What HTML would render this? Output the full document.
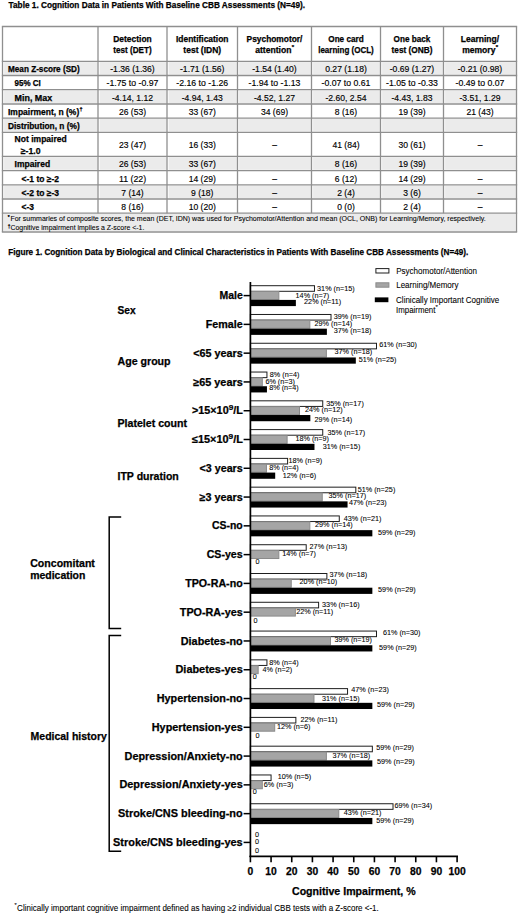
<!DOCTYPE html>
<html><head><meta charset="utf-8"><title>Cognition Data</title>
<style>
html,body{margin:0;padding:0;background:#fff;}
body{width:520px;height:915px;overflow:hidden;}
svg{display:block;font-family:"Liberation Sans", sans-serif;}
text{stroke:#000;stroke-width:0.25px;}
text.r{stroke-width:0.08px;}
text.m{stroke-width:0.15px;}
</style></head><body>
<svg width="520" height="915" viewBox="0 0 520 915">
<rect width="520" height="915" fill="#fff"/>
<text x="8.60" y="8.10" font-size="8.8" font-weight="bold" textLength="296.40" lengthAdjust="spacingAndGlyphs">Table 1. Cognition Data in Patients With Baseline CBB Assessments (N=49).</text>
<rect x="4.10" y="62.10" width="93.30" height="12.60" fill="#ebebeb"/>
<rect x="99.60" y="62.10" width="66.80" height="12.60" fill="#ebebeb"/>
<rect x="168.60" y="62.10" width="68.30" height="12.60" fill="#ebebeb"/>
<rect x="239.10" y="62.10" width="71.80" height="12.60" fill="#ebebeb"/>
<rect x="313.10" y="62.10" width="66.80" height="12.60" fill="#ebebeb"/>
<rect x="382.10" y="62.10" width="60.80" height="12.60" fill="#ebebeb"/>
<rect x="445.10" y="62.10" width="70.80" height="12.60" fill="#ebebeb"/>
<rect x="4.10" y="90.50" width="93.30" height="12.70" fill="#ebebeb"/>
<rect x="99.60" y="90.50" width="66.80" height="12.70" fill="#ebebeb"/>
<rect x="168.60" y="90.50" width="68.30" height="12.70" fill="#ebebeb"/>
<rect x="239.10" y="90.50" width="71.80" height="12.70" fill="#ebebeb"/>
<rect x="313.10" y="90.50" width="66.80" height="12.70" fill="#ebebeb"/>
<rect x="382.10" y="90.50" width="60.80" height="12.70" fill="#ebebeb"/>
<rect x="445.10" y="90.50" width="70.80" height="12.70" fill="#ebebeb"/>
<rect x="4.10" y="119.00" width="93.30" height="12.60" fill="#ebebeb"/>
<rect x="99.60" y="119.00" width="66.80" height="12.60" fill="#ebebeb"/>
<rect x="168.60" y="119.00" width="68.30" height="12.60" fill="#ebebeb"/>
<rect x="239.10" y="119.00" width="71.80" height="12.60" fill="#ebebeb"/>
<rect x="313.10" y="119.00" width="66.80" height="12.60" fill="#ebebeb"/>
<rect x="382.10" y="119.00" width="60.80" height="12.60" fill="#ebebeb"/>
<rect x="445.10" y="119.00" width="70.80" height="12.60" fill="#ebebeb"/>
<rect x="4.10" y="157.10" width="93.30" height="12.70" fill="#ebebeb"/>
<rect x="99.60" y="157.10" width="66.80" height="12.70" fill="#ebebeb"/>
<rect x="168.60" y="157.10" width="68.30" height="12.70" fill="#ebebeb"/>
<rect x="239.10" y="157.10" width="71.80" height="12.70" fill="#ebebeb"/>
<rect x="313.10" y="157.10" width="66.80" height="12.70" fill="#ebebeb"/>
<rect x="382.10" y="157.10" width="60.80" height="12.70" fill="#ebebeb"/>
<rect x="445.10" y="157.10" width="70.80" height="12.70" fill="#ebebeb"/>
<rect x="4.10" y="185.60" width="93.30" height="12.60" fill="#ebebeb"/>
<rect x="99.60" y="185.60" width="66.80" height="12.60" fill="#ebebeb"/>
<rect x="168.60" y="185.60" width="68.30" height="12.60" fill="#ebebeb"/>
<rect x="239.10" y="185.60" width="71.80" height="12.60" fill="#ebebeb"/>
<rect x="313.10" y="185.60" width="66.80" height="12.60" fill="#ebebeb"/>
<rect x="382.10" y="185.60" width="60.80" height="12.60" fill="#ebebeb"/>
<rect x="445.10" y="185.60" width="70.80" height="12.60" fill="#ebebeb"/>
<rect x="3.50" y="214.00" width="512.00" height="17.20" fill="#ebebeb"/>
<line x1="1.85" y1="26.5" x2="517.15" y2="26.5" stroke="#8f8f8f" stroke-width="1.3"/>
<line x1="1.85" y1="61.3" x2="517.15" y2="61.3" stroke="#8f8f8f" stroke-width="1.3"/>
<line x1="1.85" y1="75.5" x2="517.15" y2="75.5" stroke="#8f8f8f" stroke-width="1.3"/>
<line x1="1.85" y1="89.7" x2="517.15" y2="89.7" stroke="#8f8f8f" stroke-width="1.3"/>
<line x1="1.85" y1="104.0" x2="517.15" y2="104.0" stroke="#8f8f8f" stroke-width="1.3"/>
<line x1="1.85" y1="118.2" x2="517.15" y2="118.2" stroke="#8f8f8f" stroke-width="1.3"/>
<line x1="1.85" y1="132.4" x2="517.15" y2="132.4" stroke="#8f8f8f" stroke-width="1.3"/>
<line x1="1.85" y1="156.3" x2="517.15" y2="156.3" stroke="#8f8f8f" stroke-width="1.3"/>
<line x1="1.85" y1="170.6" x2="517.15" y2="170.6" stroke="#8f8f8f" stroke-width="1.3"/>
<line x1="1.85" y1="184.8" x2="517.15" y2="184.8" stroke="#8f8f8f" stroke-width="1.3"/>
<line x1="1.85" y1="199.0" x2="517.15" y2="199.0" stroke="#8f8f8f" stroke-width="1.3"/>
<line x1="1.85" y1="213.2" x2="517.15" y2="213.2" stroke="#8f8f8f" stroke-width="1.3"/>
<line x1="1.85" y1="232.0" x2="517.15" y2="232.0" stroke="#8f8f8f" stroke-width="1.3"/>
<line x1="2.5" y1="26.5" x2="2.5" y2="232.0" stroke="#8f8f8f" stroke-width="1.3"/>
<line x1="98" y1="26.5" x2="98" y2="213.2" stroke="#8f8f8f" stroke-width="1.3"/>
<line x1="167" y1="26.5" x2="167" y2="213.2" stroke="#8f8f8f" stroke-width="1.3"/>
<line x1="237.5" y1="26.5" x2="237.5" y2="213.2" stroke="#8f8f8f" stroke-width="1.3"/>
<line x1="311.5" y1="26.5" x2="311.5" y2="213.2" stroke="#8f8f8f" stroke-width="1.3"/>
<line x1="380.5" y1="26.5" x2="380.5" y2="213.2" stroke="#8f8f8f" stroke-width="1.3"/>
<line x1="443.5" y1="26.5" x2="443.5" y2="213.2" stroke="#8f8f8f" stroke-width="1.3"/>
<line x1="516.5" y1="26.5" x2="516.5" y2="232.0" stroke="#8f8f8f" stroke-width="1.3"/>
<text x="132.50" y="42.00" font-size="8.7" font-weight="bold" text-anchor="middle" textLength="38.41" lengthAdjust="spacingAndGlyphs">Detection</text>
<text x="132.50" y="52.80" font-size="8.7" font-weight="bold" text-anchor="middle" textLength="38.33" lengthAdjust="spacingAndGlyphs">test (DET)</text>
<text x="202.25" y="42.00" font-size="8.7" font-weight="bold" text-anchor="middle" textLength="52.54" lengthAdjust="spacingAndGlyphs">Identification</text>
<text x="202.25" y="52.80" font-size="8.7" font-weight="bold" text-anchor="middle" textLength="37.78" lengthAdjust="spacingAndGlyphs">test (IDN)</text>
<text x="274.50" y="42.00" font-size="8.7" font-weight="bold" text-anchor="middle" textLength="55.76" lengthAdjust="spacingAndGlyphs">Psychomotor/</text>
<text x="255.16" y="52.80" font-size="8.7" font-weight="bold" textLength="36.28" lengthAdjust="spacingAndGlyphs">attention</text>
<text x="291.64" y="49.20" font-size="6.0" font-weight="bold">*</text>
<text x="346.00" y="42.00" font-size="8.7" font-weight="bold" text-anchor="middle" textLength="35.42" lengthAdjust="spacingAndGlyphs">One card</text>
<text x="346.00" y="52.80" font-size="8.7" font-weight="bold" text-anchor="middle" textLength="55.60" lengthAdjust="spacingAndGlyphs">learning (OCL)</text>
<text x="412.00" y="42.00" font-size="8.7" font-weight="bold" text-anchor="middle" textLength="36.78" lengthAdjust="spacingAndGlyphs">One back</text>
<text x="412.00" y="52.80" font-size="8.7" font-weight="bold" text-anchor="middle" textLength="40.86" lengthAdjust="spacingAndGlyphs">test (ONB)</text>
<text x="480.00" y="42.00" font-size="8.7" font-weight="bold" text-anchor="middle" textLength="38.26" lengthAdjust="spacingAndGlyphs">Learning/</text>
<text x="462.17" y="52.80" font-size="8.7" font-weight="bold" textLength="33.26" lengthAdjust="spacingAndGlyphs">memory</text>
<text x="495.63" y="49.20" font-size="6.0" font-weight="bold">*</text>
<text x="8.00" y="72.20" font-size="8.7" font-weight="bold" textLength="71.73" lengthAdjust="spacingAndGlyphs">Mean Z-score (SD)</text>
<text x="132.50" y="72.20" font-size="8.7" text-anchor="middle" textLength="44.50" lengthAdjust="spacingAndGlyphs" class="m">-1.36 (1.36)</text>
<text x="202.25" y="72.20" font-size="8.7" text-anchor="middle" textLength="44.50" lengthAdjust="spacingAndGlyphs" class="m">-1.71 (1.56)</text>
<text x="274.50" y="72.20" font-size="8.7" text-anchor="middle" textLength="44.50" lengthAdjust="spacingAndGlyphs" class="m">-1.54 (1.40)</text>
<text x="346.00" y="72.20" font-size="8.7" text-anchor="middle" textLength="41.60" lengthAdjust="spacingAndGlyphs" class="m">0.27 (1.18)</text>
<text x="412.00" y="72.20" font-size="8.7" text-anchor="middle" textLength="44.50" lengthAdjust="spacingAndGlyphs" class="m">-0.69 (1.27)</text>
<text x="480.00" y="72.20" font-size="8.7" text-anchor="middle" textLength="44.50" lengthAdjust="spacingAndGlyphs" class="m">-0.21 (0.98)</text>
<text x="14.60" y="86.40" font-size="8.7" font-weight="bold" textLength="26.26" lengthAdjust="spacingAndGlyphs">95% CI</text>
<text x="132.50" y="86.40" font-size="8.7" text-anchor="middle" textLength="51.90" lengthAdjust="spacingAndGlyphs" class="m">-1.75 to -0.97</text>
<text x="202.25" y="86.40" font-size="8.7" text-anchor="middle" textLength="51.90" lengthAdjust="spacingAndGlyphs" class="m">-2.16 to -1.26</text>
<text x="274.50" y="86.40" font-size="8.7" text-anchor="middle" textLength="51.90" lengthAdjust="spacingAndGlyphs" class="m">-1.94 to -1.13</text>
<text x="346.00" y="86.40" font-size="8.7" text-anchor="middle" textLength="48.99" lengthAdjust="spacingAndGlyphs" class="m">-0.07 to 0.61</text>
<text x="412.00" y="86.40" font-size="8.7" text-anchor="middle" textLength="51.90" lengthAdjust="spacingAndGlyphs" class="m">-1.05 to -0.33</text>
<text x="480.00" y="86.40" font-size="8.7" text-anchor="middle" textLength="48.99" lengthAdjust="spacingAndGlyphs" class="m">-0.49 to 0.07</text>
<text x="14.60" y="100.60" font-size="8.7" font-weight="bold" textLength="37.60" lengthAdjust="spacingAndGlyphs">Min, Max</text>
<text x="132.50" y="100.60" font-size="8.7" text-anchor="middle" textLength="41.11" lengthAdjust="spacingAndGlyphs" class="m">-4.14, 1.12</text>
<text x="202.25" y="100.60" font-size="8.7" text-anchor="middle" textLength="41.11" lengthAdjust="spacingAndGlyphs" class="m">-4.94, 1.43</text>
<text x="274.50" y="100.60" font-size="8.7" text-anchor="middle" textLength="41.11" lengthAdjust="spacingAndGlyphs" class="m">-4.52, 1.27</text>
<text x="346.00" y="100.60" font-size="8.7" text-anchor="middle" textLength="41.11" lengthAdjust="spacingAndGlyphs" class="m">-2.60, 2.54</text>
<text x="412.00" y="100.60" font-size="8.7" text-anchor="middle" textLength="41.11" lengthAdjust="spacingAndGlyphs" class="m">-4.43, 1.83</text>
<text x="480.00" y="100.60" font-size="8.7" text-anchor="middle" textLength="41.11" lengthAdjust="spacingAndGlyphs" class="m">-3.51, 1.29</text>
<text x="8.00" y="114.90" font-size="8.7" font-weight="bold" textLength="71.26" lengthAdjust="spacingAndGlyphs">Impairment, n (%)</text>
<text x="79.56" y="111.30" font-size="5.5" font-weight="bold">†</text>
<text x="132.50" y="114.90" font-size="8.7" text-anchor="middle" textLength="27.17" lengthAdjust="spacingAndGlyphs" class="m">26 (53)</text>
<text x="202.25" y="114.90" font-size="8.7" text-anchor="middle" textLength="27.17" lengthAdjust="spacingAndGlyphs" class="m">33 (67)</text>
<text x="274.50" y="114.90" font-size="8.7" text-anchor="middle" textLength="27.17" lengthAdjust="spacingAndGlyphs" class="m">34 (69)</text>
<text x="346.00" y="114.90" font-size="8.7" text-anchor="middle" textLength="22.35" lengthAdjust="spacingAndGlyphs" class="m">8 (16)</text>
<text x="412.00" y="114.90" font-size="8.7" text-anchor="middle" textLength="27.17" lengthAdjust="spacingAndGlyphs" class="m">19 (39)</text>
<text x="480.00" y="114.90" font-size="8.7" text-anchor="middle" textLength="27.17" lengthAdjust="spacingAndGlyphs" class="m">21 (43)</text>
<text x="8.00" y="129.10" font-size="8.7" font-weight="bold" textLength="71.66" lengthAdjust="spacingAndGlyphs">Distribution, n (%)</text>
<text x="14.60" y="167.20" font-size="8.7" font-weight="bold" textLength="35.53" lengthAdjust="spacingAndGlyphs">Impaired</text>
<text x="132.50" y="167.20" font-size="8.7" text-anchor="middle" textLength="27.17" lengthAdjust="spacingAndGlyphs" class="m">26 (53)</text>
<text x="202.25" y="167.20" font-size="8.7" text-anchor="middle" textLength="27.17" lengthAdjust="spacingAndGlyphs" class="m">33 (67)</text>
<text x="346.00" y="167.20" font-size="8.7" text-anchor="middle" textLength="22.35" lengthAdjust="spacingAndGlyphs" class="m">8 (16)</text>
<text x="412.00" y="167.20" font-size="8.7" text-anchor="middle" textLength="27.17" lengthAdjust="spacingAndGlyphs" class="m">19 (39)</text>
<text x="21.50" y="181.50" font-size="8.7" font-weight="bold" textLength="37.51" lengthAdjust="spacingAndGlyphs">&lt;-1 to ≥-2</text>
<text x="132.50" y="181.50" font-size="8.7" text-anchor="middle" textLength="27.17" lengthAdjust="spacingAndGlyphs" class="m">11 (22)</text>
<text x="202.25" y="181.50" font-size="8.7" text-anchor="middle" textLength="27.17" lengthAdjust="spacingAndGlyphs" class="m">14 (29)</text>
<text x="274.50" y="181.50" font-size="8.7" text-anchor="middle" textLength="4.73" lengthAdjust="spacingAndGlyphs" class="m">–</text>
<text x="346.00" y="181.50" font-size="8.7" text-anchor="middle" textLength="22.35" lengthAdjust="spacingAndGlyphs" class="m">6 (12)</text>
<text x="412.00" y="181.50" font-size="8.7" text-anchor="middle" textLength="27.17" lengthAdjust="spacingAndGlyphs" class="m">14 (29)</text>
<text x="480.00" y="181.50" font-size="8.7" text-anchor="middle" textLength="4.73" lengthAdjust="spacingAndGlyphs" class="m">–</text>
<text x="21.50" y="195.70" font-size="8.7" font-weight="bold" textLength="37.51" lengthAdjust="spacingAndGlyphs">&lt;-2 to ≥-3</text>
<text x="132.50" y="195.70" font-size="8.7" text-anchor="middle" textLength="22.35" lengthAdjust="spacingAndGlyphs" class="m">7 (14)</text>
<text x="202.25" y="195.70" font-size="8.7" text-anchor="middle" textLength="22.35" lengthAdjust="spacingAndGlyphs" class="m">9 (18)</text>
<text x="274.50" y="195.70" font-size="8.7" text-anchor="middle" textLength="4.73" lengthAdjust="spacingAndGlyphs" class="m">–</text>
<text x="346.00" y="195.70" font-size="8.7" text-anchor="middle" textLength="17.54" lengthAdjust="spacingAndGlyphs" class="m">2 (4)</text>
<text x="412.00" y="195.70" font-size="8.7" text-anchor="middle" textLength="17.54" lengthAdjust="spacingAndGlyphs" class="m">3 (6)</text>
<text x="480.00" y="195.70" font-size="8.7" text-anchor="middle" textLength="4.73" lengthAdjust="spacingAndGlyphs" class="m">–</text>
<text x="21.50" y="209.90" font-size="8.7" font-weight="bold" textLength="12.45" lengthAdjust="spacingAndGlyphs">&lt;-3</text>
<text x="132.50" y="209.90" font-size="8.7" text-anchor="middle" textLength="22.35" lengthAdjust="spacingAndGlyphs" class="m">8 (16)</text>
<text x="202.25" y="209.90" font-size="8.7" text-anchor="middle" textLength="27.17" lengthAdjust="spacingAndGlyphs" class="m">10 (20)</text>
<text x="274.50" y="209.90" font-size="8.7" text-anchor="middle" textLength="4.73" lengthAdjust="spacingAndGlyphs" class="m">–</text>
<text x="346.00" y="209.90" font-size="8.7" text-anchor="middle" textLength="17.54" lengthAdjust="spacingAndGlyphs" class="m">0 (0)</text>
<text x="412.00" y="209.90" font-size="8.7" text-anchor="middle" textLength="17.54" lengthAdjust="spacingAndGlyphs" class="m">2 (4)</text>
<text x="480.00" y="209.90" font-size="8.7" text-anchor="middle" textLength="4.73" lengthAdjust="spacingAndGlyphs" class="m">–</text>
<text x="14.60" y="142.00" font-size="8.7" font-weight="bold" textLength="52.14" lengthAdjust="spacingAndGlyphs">Not impaired</text>
<text x="20.80" y="153.60" font-size="8.7" font-weight="bold" textLength="19.81" lengthAdjust="spacingAndGlyphs">≥-1.0</text>
<text x="132.50" y="148.30" font-size="8.7" text-anchor="middle" textLength="27.17" lengthAdjust="spacingAndGlyphs" class="m">23 (47)</text>
<text x="202.25" y="148.30" font-size="8.7" text-anchor="middle" textLength="27.17" lengthAdjust="spacingAndGlyphs" class="m">16 (33)</text>
<text x="274.50" y="148.30" font-size="8.7" text-anchor="middle" textLength="4.73" lengthAdjust="spacingAndGlyphs" class="m">–</text>
<text x="346.00" y="148.30" font-size="8.7" text-anchor="middle" textLength="27.17" lengthAdjust="spacingAndGlyphs" class="m">41 (84)</text>
<text x="412.00" y="148.30" font-size="8.7" text-anchor="middle" textLength="27.17" lengthAdjust="spacingAndGlyphs" class="m">30 (61)</text>
<text x="480.00" y="148.30" font-size="8.7" text-anchor="middle" textLength="4.73" lengthAdjust="spacingAndGlyphs" class="m">–</text>
<text x="7.80" y="218.60" font-size="4.8">*</text>
<text x="10.40" y="220.90" font-size="6.95" textLength="475.30" lengthAdjust="spacingAndGlyphs" class="r">For summaries of composite scores, the mean (DET, IDN) was used for Psychomotor/Attention and mean (OCL, ONB) for Learning/Memory, respectively.</text>
<text x="7.80" y="227.70" font-size="4.8">†</text>
<text x="10.50" y="229.90" font-size="6.95" textLength="133.90" lengthAdjust="spacingAndGlyphs" class="r">Cognitive impairment implies a Z-score &lt;-1.</text>
<text x="8.20" y="255.30" font-size="8.8" font-weight="bold" textLength="460.10" lengthAdjust="spacingAndGlyphs">Figure 1. Cognition Data by Biological and Clinical Characteristics in Patients With Baseline CBB Assessments (N=49).</text>
<rect x="250.4" y="285.70" width="64.08" height="5.6" fill="#fff" stroke="#1e1e1e" stroke-width="1"/>
<rect x="250.4" y="291.50" width="28.44" height="8.0" fill="#a5a5a5" stroke="#8a8a8a" stroke-width="1"/>
<rect x="250.4" y="299.90" width="45.47" height="6.2" fill="#000"/>
<text x="317.10" y="291.20" font-size="7.5" textLength="37.62" lengthAdjust="spacingAndGlyphs" class="r">31% (n=15)</text>
<text x="295.60" y="297.80" font-size="7.5" textLength="33.59" lengthAdjust="spacingAndGlyphs" class="r">14% (n=7)</text>
<text x="304.10" y="304.20" font-size="7.5" textLength="37.08" lengthAdjust="spacingAndGlyphs" class="r">22% (n=11)</text>
<line x1="243.6" y1="295.60" x2="250.4" y2="295.60" stroke="#000" stroke-width="1.5"/>
<text x="219.50" y="299.20" font-size="10.5" font-weight="bold" textLength="23.20" lengthAdjust="spacingAndGlyphs">Male</text>
<rect x="250.4" y="314.48" width="80.61" height="5.6" fill="#fff" stroke="#1e1e1e" stroke-width="1"/>
<rect x="250.4" y="320.28" width="59.44" height="8.0" fill="#a5a5a5" stroke="#8a8a8a" stroke-width="1"/>
<rect x="250.4" y="328.68" width="76.48" height="6.2" fill="#000"/>
<text x="333.80" y="319.30" font-size="7.5" textLength="37.62" lengthAdjust="spacingAndGlyphs" class="r">39% (n=19)</text>
<text x="314.50" y="325.50" font-size="7.5" textLength="37.62" lengthAdjust="spacingAndGlyphs" class="r">29% (n=14)</text>
<text x="333.80" y="333.00" font-size="7.5" textLength="37.62" lengthAdjust="spacingAndGlyphs" class="r">37% (n=18)</text>
<line x1="243.6" y1="324.38" x2="250.4" y2="324.38" stroke="#000" stroke-width="1.5"/>
<text x="205.80" y="327.98" font-size="10.5" font-weight="bold" textLength="36.90" lengthAdjust="spacingAndGlyphs">Female</text>
<rect x="250.4" y="343.26" width="126.09" height="5.6" fill="#fff" stroke="#1e1e1e" stroke-width="1"/>
<rect x="250.4" y="349.06" width="75.98" height="8.0" fill="#a5a5a5" stroke="#8a8a8a" stroke-width="1"/>
<rect x="250.4" y="357.46" width="105.42" height="6.2" fill="#000"/>
<text x="379.30" y="347.30" font-size="7.5" textLength="37.62" lengthAdjust="spacingAndGlyphs" class="r">61% (n=30)</text>
<text x="334.50" y="354.30" font-size="7.5" textLength="37.62" lengthAdjust="spacingAndGlyphs" class="r">37% (n=18)</text>
<text x="358.80" y="362.30" font-size="7.5" textLength="37.62" lengthAdjust="spacingAndGlyphs" class="r">51% (n=25)</text>
<line x1="243.6" y1="353.16" x2="250.4" y2="353.16" stroke="#000" stroke-width="1.5"/>
<text x="193.30" y="356.76" font-size="10.5" font-weight="bold" textLength="49.40" lengthAdjust="spacingAndGlyphs">&lt;65 years</text>
<rect x="250.4" y="372.04" width="16.54" height="5.6" fill="#fff" stroke="#1e1e1e" stroke-width="1"/>
<rect x="250.4" y="377.84" width="11.90" height="8.0" fill="#a5a5a5" stroke="#8a8a8a" stroke-width="1"/>
<rect x="250.4" y="386.24" width="16.54" height="6.2" fill="#000"/>
<text x="269.80" y="376.70" font-size="7.5" textLength="29.57" lengthAdjust="spacingAndGlyphs" class="r">8% (n=4)</text>
<text x="265.40" y="383.80" font-size="7.5" textLength="29.57" lengthAdjust="spacingAndGlyphs" class="r">6% (n=3)</text>
<text x="269.20" y="390.10" font-size="7.5" textLength="29.57" lengthAdjust="spacingAndGlyphs" class="r">8% (n=4)</text>
<line x1="243.6" y1="381.94" x2="250.4" y2="381.94" stroke="#000" stroke-width="1.5"/>
<text x="193.30" y="385.54" font-size="10.5" font-weight="bold" textLength="49.40" lengthAdjust="spacingAndGlyphs">≥65 years</text>
<rect x="250.4" y="400.82" width="72.34" height="5.6" fill="#fff" stroke="#1e1e1e" stroke-width="1"/>
<rect x="250.4" y="406.62" width="49.11" height="8.0" fill="#a5a5a5" stroke="#8a8a8a" stroke-width="1"/>
<rect x="250.4" y="415.02" width="59.94" height="6.2" fill="#000"/>
<text x="326.20" y="405.60" font-size="7.5" textLength="37.62" lengthAdjust="spacingAndGlyphs" class="r">35% (n=17)</text>
<text x="305.00" y="411.80" font-size="7.5" textLength="37.62" lengthAdjust="spacingAndGlyphs" class="r">24% (n=12)</text>
<text x="314.60" y="421.60" font-size="7.5" textLength="37.62" lengthAdjust="spacingAndGlyphs" class="r">29% (n=14)</text>
<line x1="243.6" y1="410.72" x2="250.4" y2="410.72" stroke="#000" stroke-width="1.5"/>
<g transform="translate(242.9 414.32) scale(1.0327 1)"><text x="0" y="0" font-size="10.5" font-weight="bold" text-anchor="end">&gt;15×10<tspan font-size="8" dy="-4.4">9</tspan><tspan dy="4.4">/L</tspan></text></g>
<rect x="250.4" y="429.60" width="72.34" height="5.6" fill="#fff" stroke="#1e1e1e" stroke-width="1"/>
<rect x="250.4" y="435.40" width="36.71" height="8.0" fill="#a5a5a5" stroke="#8a8a8a" stroke-width="1"/>
<rect x="250.4" y="443.80" width="64.08" height="6.2" fill="#000"/>
<text x="327.50" y="434.60" font-size="7.5" textLength="37.62" lengthAdjust="spacingAndGlyphs" class="r">35% (n=17)</text>
<text x="295.40" y="440.80" font-size="7.5" textLength="33.59" lengthAdjust="spacingAndGlyphs" class="r">18% (n=9)</text>
<text x="322.70" y="449.00" font-size="7.5" textLength="37.62" lengthAdjust="spacingAndGlyphs" class="r">31% (n=15)</text>
<line x1="243.6" y1="439.50" x2="250.4" y2="439.50" stroke="#000" stroke-width="1.5"/>
<g transform="translate(242.9 443.10) scale(1.0406 1)"><text x="0" y="0" font-size="10.5" font-weight="bold" text-anchor="end">≤15×10<tspan font-size="8" dy="-4.4">9</tspan><tspan dy="4.4">/L</tspan></text></g>
<rect x="250.4" y="458.38" width="37.21" height="5.6" fill="#fff" stroke="#1e1e1e" stroke-width="1"/>
<rect x="250.4" y="464.18" width="16.04" height="8.0" fill="#a5a5a5" stroke="#8a8a8a" stroke-width="1"/>
<rect x="250.4" y="472.58" width="24.80" height="6.2" fill="#000"/>
<text x="288.50" y="462.70" font-size="7.5" textLength="33.59" lengthAdjust="spacingAndGlyphs" class="r">18% (n=9)</text>
<text x="269.20" y="469.80" font-size="7.5" textLength="29.57" lengthAdjust="spacingAndGlyphs" class="r">8% (n=4)</text>
<text x="282.70" y="478.00" font-size="7.5" textLength="33.59" lengthAdjust="spacingAndGlyphs" class="r">12% (n=6)</text>
<line x1="243.6" y1="468.28" x2="250.4" y2="468.28" stroke="#000" stroke-width="1.5"/>
<text x="199.60" y="471.88" font-size="10.5" font-weight="bold" textLength="43.10" lengthAdjust="spacingAndGlyphs">&lt;3 years</text>
<rect x="250.4" y="487.16" width="105.42" height="5.6" fill="#fff" stroke="#1e1e1e" stroke-width="1"/>
<rect x="250.4" y="492.96" width="71.84" height="8.0" fill="#a5a5a5" stroke="#8a8a8a" stroke-width="1"/>
<rect x="250.4" y="501.36" width="97.15" height="6.2" fill="#000"/>
<text x="357.70" y="491.60" font-size="7.5" textLength="37.62" lengthAdjust="spacingAndGlyphs" class="r">51% (n=25)</text>
<text x="328.50" y="497.80" font-size="7.5" textLength="37.62" lengthAdjust="spacingAndGlyphs" class="r">35% (n=17)</text>
<text x="349.00" y="505.10" font-size="7.5" textLength="37.62" lengthAdjust="spacingAndGlyphs" class="r">47% (n=23)</text>
<line x1="243.6" y1="497.06" x2="250.4" y2="497.06" stroke="#000" stroke-width="1.5"/>
<text x="199.60" y="500.66" font-size="10.5" font-weight="bold" textLength="43.10" lengthAdjust="spacingAndGlyphs">≥3 years</text>
<rect x="250.4" y="515.94" width="88.88" height="5.6" fill="#fff" stroke="#1e1e1e" stroke-width="1"/>
<rect x="250.4" y="521.74" width="59.44" height="8.0" fill="#a5a5a5" stroke="#8a8a8a" stroke-width="1"/>
<rect x="250.4" y="530.14" width="121.95" height="6.2" fill="#000"/>
<text x="343.80" y="520.60" font-size="7.5" textLength="37.62" lengthAdjust="spacingAndGlyphs" class="r">43% (n=21)</text>
<text x="315.00" y="527.30" font-size="7.5" textLength="37.62" lengthAdjust="spacingAndGlyphs" class="r">29% (n=14)</text>
<text x="377.90" y="535.00" font-size="7.5" textLength="37.62" lengthAdjust="spacingAndGlyphs" class="r">59% (n=29)</text>
<line x1="243.6" y1="525.84" x2="250.4" y2="525.84" stroke="#000" stroke-width="1.5"/>
<text x="211.90" y="529.44" font-size="10.5" font-weight="bold" textLength="30.80" lengthAdjust="spacingAndGlyphs">CS-no</text>
<rect x="250.4" y="544.72" width="55.81" height="5.6" fill="#fff" stroke="#1e1e1e" stroke-width="1"/>
<rect x="250.4" y="550.52" width="28.44" height="8.0" fill="#a5a5a5" stroke="#8a8a8a" stroke-width="1"/>
<text x="309.60" y="549.20" font-size="7.5" textLength="37.62" lengthAdjust="spacingAndGlyphs" class="r">27% (n=13)</text>
<text x="282.30" y="556.30" font-size="7.5" textLength="33.59" lengthAdjust="spacingAndGlyphs" class="r">14% (n=7)</text>
<text x="255.40" y="563.50" font-size="7.5" textLength="4.03" lengthAdjust="spacingAndGlyphs" class="r">0</text>
<line x1="243.6" y1="554.62" x2="250.4" y2="554.62" stroke="#000" stroke-width="1.5"/>
<text x="206.70" y="558.22" font-size="10.5" font-weight="bold" textLength="36.00" lengthAdjust="spacingAndGlyphs">CS-yes</text>
<rect x="250.4" y="573.50" width="76.48" height="5.6" fill="#fff" stroke="#1e1e1e" stroke-width="1"/>
<rect x="250.4" y="579.30" width="40.84" height="8.0" fill="#a5a5a5" stroke="#8a8a8a" stroke-width="1"/>
<rect x="250.4" y="587.70" width="121.95" height="6.2" fill="#000"/>
<text x="329.60" y="577.10" font-size="7.5" textLength="37.62" lengthAdjust="spacingAndGlyphs" class="r">37% (n=18)</text>
<text x="299.60" y="584.00" font-size="7.5" textLength="37.62" lengthAdjust="spacingAndGlyphs" class="r">20% (n=10)</text>
<text x="378.10" y="592.10" font-size="7.5" textLength="37.62" lengthAdjust="spacingAndGlyphs" class="r">59% (n=29)</text>
<line x1="243.6" y1="583.40" x2="250.4" y2="583.40" stroke="#000" stroke-width="1.5"/>
<text x="185.20" y="587.00" font-size="10.5" font-weight="bold" textLength="57.50" lengthAdjust="spacingAndGlyphs">TPO-RA-no</text>
<rect x="250.4" y="602.28" width="68.21" height="5.6" fill="#fff" stroke="#1e1e1e" stroke-width="1"/>
<rect x="250.4" y="608.08" width="44.97" height="8.0" fill="#a5a5a5" stroke="#8a8a8a" stroke-width="1"/>
<text x="322.10" y="606.70" font-size="7.5" textLength="37.62" lengthAdjust="spacingAndGlyphs" class="r">33% (n=16)</text>
<text x="296.20" y="614.30" font-size="7.5" textLength="37.08" lengthAdjust="spacingAndGlyphs" class="r">22% (n=11)</text>
<text x="253.50" y="622.60" font-size="7.5" textLength="4.03" lengthAdjust="spacingAndGlyphs" class="r">0</text>
<line x1="243.6" y1="612.18" x2="250.4" y2="612.18" stroke="#000" stroke-width="1.5"/>
<text x="179.80" y="615.78" font-size="10.5" font-weight="bold" textLength="62.90" lengthAdjust="spacingAndGlyphs">TPO-RA-yes</text>
<rect x="250.4" y="631.06" width="126.09" height="5.6" fill="#fff" stroke="#1e1e1e" stroke-width="1"/>
<rect x="250.4" y="636.86" width="80.11" height="8.0" fill="#a5a5a5" stroke="#8a8a8a" stroke-width="1"/>
<rect x="250.4" y="645.26" width="121.95" height="6.2" fill="#000"/>
<text x="382.90" y="635.10" font-size="7.5" textLength="37.62" lengthAdjust="spacingAndGlyphs" class="r">61% (n=30)</text>
<text x="334.40" y="642.00" font-size="7.5" textLength="37.62" lengthAdjust="spacingAndGlyphs" class="r">39% (n=19)</text>
<text x="379.10" y="650.10" font-size="7.5" textLength="37.62" lengthAdjust="spacingAndGlyphs" class="r">59% (n=29)</text>
<line x1="243.6" y1="640.96" x2="250.4" y2="640.96" stroke="#000" stroke-width="1.5"/>
<text x="180.80" y="644.56" font-size="10.5" font-weight="bold" textLength="61.90" lengthAdjust="spacingAndGlyphs">Diabetes-no</text>
<rect x="250.4" y="659.84" width="16.54" height="5.6" fill="#fff" stroke="#1e1e1e" stroke-width="1"/>
<rect x="250.4" y="665.64" width="7.77" height="8.0" fill="#a5a5a5" stroke="#8a8a8a" stroke-width="1"/>
<text x="269.20" y="664.50" font-size="7.5" textLength="29.57" lengthAdjust="spacingAndGlyphs" class="r">8% (n=4)</text>
<text x="262.60" y="672.20" font-size="7.5" textLength="29.57" lengthAdjust="spacingAndGlyphs" class="r">4% (n=2)</text>
<text x="252.80" y="679.10" font-size="7.5" textLength="4.03" lengthAdjust="spacingAndGlyphs" class="r">0</text>
<line x1="243.6" y1="669.74" x2="250.4" y2="669.74" stroke="#000" stroke-width="1.5"/>
<text x="175.50" y="673.34" font-size="10.5" font-weight="bold" textLength="67.20" lengthAdjust="spacingAndGlyphs">Diabetes-yes</text>
<rect x="250.4" y="688.62" width="97.15" height="5.6" fill="#fff" stroke="#1e1e1e" stroke-width="1"/>
<rect x="250.4" y="694.42" width="63.58" height="8.0" fill="#a5a5a5" stroke="#8a8a8a" stroke-width="1"/>
<rect x="250.4" y="702.82" width="121.95" height="6.2" fill="#000"/>
<text x="351.30" y="692.00" font-size="7.5" textLength="37.62" lengthAdjust="spacingAndGlyphs" class="r">47% (n=23)</text>
<text x="322.00" y="700.50" font-size="7.5" textLength="37.62" lengthAdjust="spacingAndGlyphs" class="r">31% (n=15)</text>
<text x="377.00" y="707.00" font-size="7.5" textLength="37.62" lengthAdjust="spacingAndGlyphs" class="r">59% (n=29)</text>
<line x1="243.6" y1="698.52" x2="250.4" y2="698.52" stroke="#000" stroke-width="1.5"/>
<text x="156.80" y="702.12" font-size="10.5" font-weight="bold" textLength="85.90" lengthAdjust="spacingAndGlyphs">Hypertension-no</text>
<rect x="250.4" y="717.40" width="45.47" height="5.6" fill="#fff" stroke="#1e1e1e" stroke-width="1"/>
<rect x="250.4" y="723.20" width="24.30" height="8.0" fill="#a5a5a5" stroke="#8a8a8a" stroke-width="1"/>
<text x="300.40" y="722.20" font-size="7.5" textLength="37.08" lengthAdjust="spacingAndGlyphs" class="r">22% (n=11)</text>
<text x="276.90" y="729.30" font-size="7.5" textLength="33.59" lengthAdjust="spacingAndGlyphs" class="r">12% (n=6)</text>
<text x="255.40" y="737.60" font-size="7.5" textLength="4.03" lengthAdjust="spacingAndGlyphs" class="r">0</text>
<line x1="243.6" y1="727.30" x2="250.4" y2="727.30" stroke="#000" stroke-width="1.5"/>
<text x="151.80" y="730.90" font-size="10.5" font-weight="bold" textLength="90.90" lengthAdjust="spacingAndGlyphs">Hypertension-yes</text>
<rect x="250.4" y="746.18" width="121.95" height="5.6" fill="#fff" stroke="#1e1e1e" stroke-width="1"/>
<rect x="250.4" y="751.98" width="75.98" height="8.0" fill="#a5a5a5" stroke="#8a8a8a" stroke-width="1"/>
<rect x="250.4" y="760.38" width="121.95" height="6.2" fill="#000"/>
<text x="376.30" y="749.50" font-size="7.5" textLength="37.62" lengthAdjust="spacingAndGlyphs" class="r">59% (n=29)</text>
<text x="332.50" y="757.50" font-size="7.5" textLength="37.62" lengthAdjust="spacingAndGlyphs" class="r">37% (n=18)</text>
<text x="377.00" y="764.00" font-size="7.5" textLength="37.62" lengthAdjust="spacingAndGlyphs" class="r">59% (n=29)</text>
<line x1="243.6" y1="756.08" x2="250.4" y2="756.08" stroke="#000" stroke-width="1.5"/>
<text x="124.60" y="759.68" font-size="10.5" font-weight="bold" textLength="118.10" lengthAdjust="spacingAndGlyphs">Depression/Anxiety-no</text>
<rect x="250.4" y="774.96" width="20.67" height="5.6" fill="#fff" stroke="#1e1e1e" stroke-width="1"/>
<rect x="250.4" y="780.76" width="11.90" height="8.0" fill="#a5a5a5" stroke="#8a8a8a" stroke-width="1"/>
<text x="277.70" y="779.00" font-size="7.5" textLength="33.59" lengthAdjust="spacingAndGlyphs" class="r">10% (n=5)</text>
<text x="263.80" y="787.20" font-size="7.5" textLength="29.57" lengthAdjust="spacingAndGlyphs" class="r">6% (n=3)</text>
<text x="252.80" y="794.10" font-size="7.5" textLength="4.03" lengthAdjust="spacingAndGlyphs" class="r">0</text>
<line x1="243.6" y1="784.86" x2="250.4" y2="784.86" stroke="#000" stroke-width="1.5"/>
<text x="119.40" y="788.46" font-size="10.5" font-weight="bold" textLength="123.30" lengthAdjust="spacingAndGlyphs">Depression/Anxiety-yes</text>
<rect x="250.4" y="803.74" width="142.62" height="5.6" fill="#fff" stroke="#1e1e1e" stroke-width="1"/>
<rect x="250.4" y="809.54" width="88.38" height="8.0" fill="#a5a5a5" stroke="#8a8a8a" stroke-width="1"/>
<rect x="250.4" y="817.94" width="121.95" height="6.2" fill="#000"/>
<text x="394.50" y="808.30" font-size="7.5" textLength="37.62" lengthAdjust="spacingAndGlyphs" class="r">69% (n=34)</text>
<text x="343.80" y="815.30" font-size="7.5" textLength="37.62" lengthAdjust="spacingAndGlyphs" class="r">43% (n=21)</text>
<text x="376.30" y="823.30" font-size="7.5" textLength="37.62" lengthAdjust="spacingAndGlyphs" class="r">59% (n=29)</text>
<line x1="243.6" y1="813.64" x2="250.4" y2="813.64" stroke="#000" stroke-width="1.5"/>
<text x="118.10" y="817.24" font-size="10.5" font-weight="bold" textLength="124.59" lengthAdjust="spacingAndGlyphs">Stroke/CNS bleeding-no</text>
<text x="255.10" y="836.60" font-size="7.5" textLength="4.03" lengthAdjust="spacingAndGlyphs" class="r">0</text>
<text x="255.10" y="844.40" font-size="7.5" textLength="4.03" lengthAdjust="spacingAndGlyphs" class="r">0</text>
<text x="255.10" y="852.50" font-size="7.5" textLength="4.03" lengthAdjust="spacingAndGlyphs" class="r">0</text>
<line x1="243.6" y1="842.42" x2="250.4" y2="842.42" stroke="#000" stroke-width="1.5"/>
<text x="113.10" y="846.02" font-size="10.5" font-weight="bold" textLength="129.60" lengthAdjust="spacingAndGlyphs">Stroke/CNS bleeding-yes</text>
<line x1="250.4" y1="281.9" x2="250.4" y2="857.1" stroke="#000" stroke-width="1.7"/>
<line x1="249.55" y1="856.3" x2="458.0" y2="856.3" stroke="#000" stroke-width="1.7"/>
<line x1="250.40" y1="856" x2="250.40" y2="862.3" stroke="#000" stroke-width="1.6"/>
<text x="250.40" y="874.70" font-size="10.3" font-weight="bold" text-anchor="middle">0</text>
<line x1="271.07" y1="856" x2="271.07" y2="862.3" stroke="#000" stroke-width="1.6"/>
<text x="271.07" y="874.70" font-size="10.3" font-weight="bold" text-anchor="middle">10</text>
<line x1="291.74" y1="856" x2="291.74" y2="862.3" stroke="#000" stroke-width="1.6"/>
<text x="291.74" y="874.70" font-size="10.3" font-weight="bold" text-anchor="middle">20</text>
<line x1="312.41" y1="856" x2="312.41" y2="862.3" stroke="#000" stroke-width="1.6"/>
<text x="312.41" y="874.70" font-size="10.3" font-weight="bold" text-anchor="middle">30</text>
<line x1="333.08" y1="856" x2="333.08" y2="862.3" stroke="#000" stroke-width="1.6"/>
<text x="333.08" y="874.70" font-size="10.3" font-weight="bold" text-anchor="middle">40</text>
<line x1="353.75" y1="856" x2="353.75" y2="862.3" stroke="#000" stroke-width="1.6"/>
<text x="353.75" y="874.70" font-size="10.3" font-weight="bold" text-anchor="middle">50</text>
<line x1="374.42" y1="856" x2="374.42" y2="862.3" stroke="#000" stroke-width="1.6"/>
<text x="374.42" y="874.70" font-size="10.3" font-weight="bold" text-anchor="middle">60</text>
<line x1="395.09" y1="856" x2="395.09" y2="862.3" stroke="#000" stroke-width="1.6"/>
<text x="395.09" y="874.70" font-size="10.3" font-weight="bold" text-anchor="middle">70</text>
<line x1="415.76" y1="856" x2="415.76" y2="862.3" stroke="#000" stroke-width="1.6"/>
<text x="415.76" y="874.70" font-size="10.3" font-weight="bold" text-anchor="middle">80</text>
<line x1="436.43" y1="856" x2="436.43" y2="862.3" stroke="#000" stroke-width="1.6"/>
<text x="436.43" y="874.70" font-size="10.3" font-weight="bold" text-anchor="middle">90</text>
<line x1="457.10" y1="856" x2="457.10" y2="862.3" stroke="#000" stroke-width="1.6"/>
<text x="457.10" y="874.70" font-size="10.3" font-weight="bold" text-anchor="middle">100</text>
<text x="353.80" y="894.60" font-size="10.6" font-weight="bold" text-anchor="middle">Cognitive Impairment, %</text>
<text x="117.50" y="314.20" font-size="10.5" font-weight="bold" textLength="18.10" lengthAdjust="spacingAndGlyphs">Sex</text>
<text x="117.50" y="364.90" font-size="10.5" font-weight="bold" textLength="53.10" lengthAdjust="spacingAndGlyphs">Age group</text>
<text x="117.50" y="426.80" font-size="10.5" font-weight="bold" textLength="69.60" lengthAdjust="spacingAndGlyphs">Platelet count</text>
<text x="117.50" y="480.20" font-size="10.5" font-weight="bold" textLength="61.30" lengthAdjust="spacingAndGlyphs">ITP duration</text>
<text x="30.20" y="567.20" font-size="10.5" font-weight="bold" textLength="64.70" lengthAdjust="spacingAndGlyphs">Concomitant</text>
<text x="30.20" y="579.30" font-size="10.5" font-weight="bold" textLength="55.20" lengthAdjust="spacingAndGlyphs">medication</text>
<text x="30.60" y="739.80" font-size="10.5" font-weight="bold" textLength="76.30" lengthAdjust="spacingAndGlyphs">Medical history</text>
<path d="M121.2 516.9 H109.2 V628.5 H121.2" fill="none" stroke="#000" stroke-width="1.5"/>
<path d="M121.2 635.4 H109.2 V851.3 H121.2" fill="none" stroke="#000" stroke-width="1.5"/>
<rect x="375.9" y="268.6" width="13" height="4.4" fill="#fff" stroke="#1e1e1e" stroke-width="1"/>
<rect x="375.9" y="282.8" width="13" height="4.4" fill="#a5a5a5" stroke="#8a8a8a" stroke-width="1"/>
<rect x="374.8" y="297.4" width="13.6" height="4.8" fill="#000"/>
<text x="396.20" y="273.80" font-size="8.7" textLength="80.80" lengthAdjust="spacingAndGlyphs" class="r">Psychomotor/Attention</text>
<text x="396.20" y="287.90" font-size="8.7" textLength="62.30" lengthAdjust="spacingAndGlyphs" class="r">Learning/Memory</text>
<text x="396.10" y="302.50" font-size="8.7" textLength="103.10" lengthAdjust="spacingAndGlyphs" class="r">Clinically Important Cognitive</text>
<text x="396.10" y="312.90" font-size="8.7" textLength="39.30" lengthAdjust="spacingAndGlyphs" class="r">Impairment</text>
<text x="435.60" y="309.20" font-size="6" class="r">*</text>
<text x="14.40" y="906.80" font-size="5.5" class="r">*</text>
<text x="17.10" y="910.90" font-size="8.4" textLength="361.70" lengthAdjust="spacingAndGlyphs" class="r">Clinically important cognitive impairment defined as having ≥2 individual CBB tests with a Z-score &lt;-1.</text>
</svg>
</body></html>
